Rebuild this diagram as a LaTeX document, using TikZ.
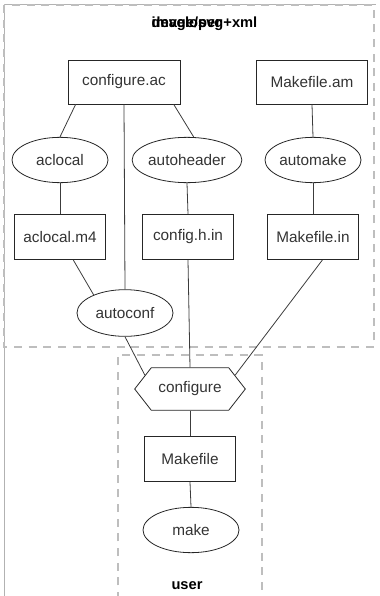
\documentclass[tikz,border=0pt]{standalone}
\usepackage{fontspec}
\setmainfont{Liberation Sans}
\usetikzlibrary{shapes.geometric, shapes.symbols, positioning}
\definecolor{clustergray}{RGB}{190, 190, 190}
\definecolor{edgegray}{RGB}{60, 60, 60}

\begin{document}
\begin{tikzpicture}[x=0.75pt, y=-0.75pt,
  file/.style={rectangle, draw=black!85, line width=0.6pt, minimum width=68pt, minimum height=34pt, inner sep=2pt, text=black!80, font=\fontsize{11.5pt}{13pt}\selectfont},
  tool/.style={ellipse, draw=black!85, line width=0.6pt, minimum width=72pt, minimum height=34pt, inner sep=0pt, text=black!80, font=\fontsize{11.5pt}{13pt}\selectfont},
  link/.style={edgegray, line width=0.6pt},
  cluster/.style={clustergray, line width=1pt, dash pattern=on 6pt off 5pt},
  title/.style={font=\bfseries\fontsize{11pt}{12pt}\selectfont}]
\useasboundingbox (0,0) rectangle (379,596);
% frame and clusters
\draw[gray!60, line width=0.6pt] (4,596) -- (4,4) -- (376,4);
\draw[cluster] (4,5) rectangle (374,347);
\draw[cluster] (118,600) |- (262,355) -- (262,600);
\node[title, anchor=west] (devlabel) at (147,24) {developer};
\node[title, anchor=west] (mimelabel) at (147,24) {image/svg+xml};
\node[title] (userlabel) at (187,586) {user};
% files and tools
\node[file, minimum width=84pt, minimum height=33pt] (cac) at (124,82) {configure.ac};
\node[file, minimum width=83pt, minimum height=33pt] (mam) at (312,82) {Makefile.am};
\node[tool] (aclocal) at (60,160) {aclocal};
\node[tool] (autoheader) at (187,160) {autoheader};
\node[tool] (automake) at (313,160) {automake};
\node[file] (am4) at (60,237) {aclocal.m4};
\node[file] (chi) at (188,237) {config.h.in};
\node[file] (min) at (313,237) {Makefile.in};
\node[tool, minimum height=35pt] (autoconf) at (125,313) {autoconf};
\node[signal, signal to=west and east, signal pointer angle=104, draw=black!85, line width=0.6pt, minimum width=83pt, minimum height=32pt, inner sep=2pt, text=black!80, font=\fontsize{11.5pt}{13pt}\selectfont] (cfg) at (190,389) {configure};
\node[file] (mkf) at (190,459) {Makefile};
\node[tool] (make) at (191,530) {make};
% connectors
\draw[link] ([xshift=6pt]cac.south west) -- (aclocal.north);
\draw[link] ([xshift=-5pt]cac.south east) -- ([xshift=5pt]autoheader.north);
\draw[link] (cac.south) -- (autoconf.north);
\draw[link] (mam.south) -- (automake.north);
\draw[link] (aclocal.south) -- (am4.north);
\draw[link] (autoheader.south) -- (chi.north);
\draw[link] (automake.south) -- (min.north);
\draw[link] ([xshift=10pt]am4.south) -- (autoconf.150);
\draw[link] (autoconf.south) -- (cfg.163);
\draw[link] (chi.south) -- (cfg.north);
\draw[link] ([xshift=7pt]min.south) -- (cfg.17);
\draw[link] (cfg.south) -- (mkf.north);
\draw[link] (mkf.south) -- (make.north);
\end{tikzpicture}
\end{document}
